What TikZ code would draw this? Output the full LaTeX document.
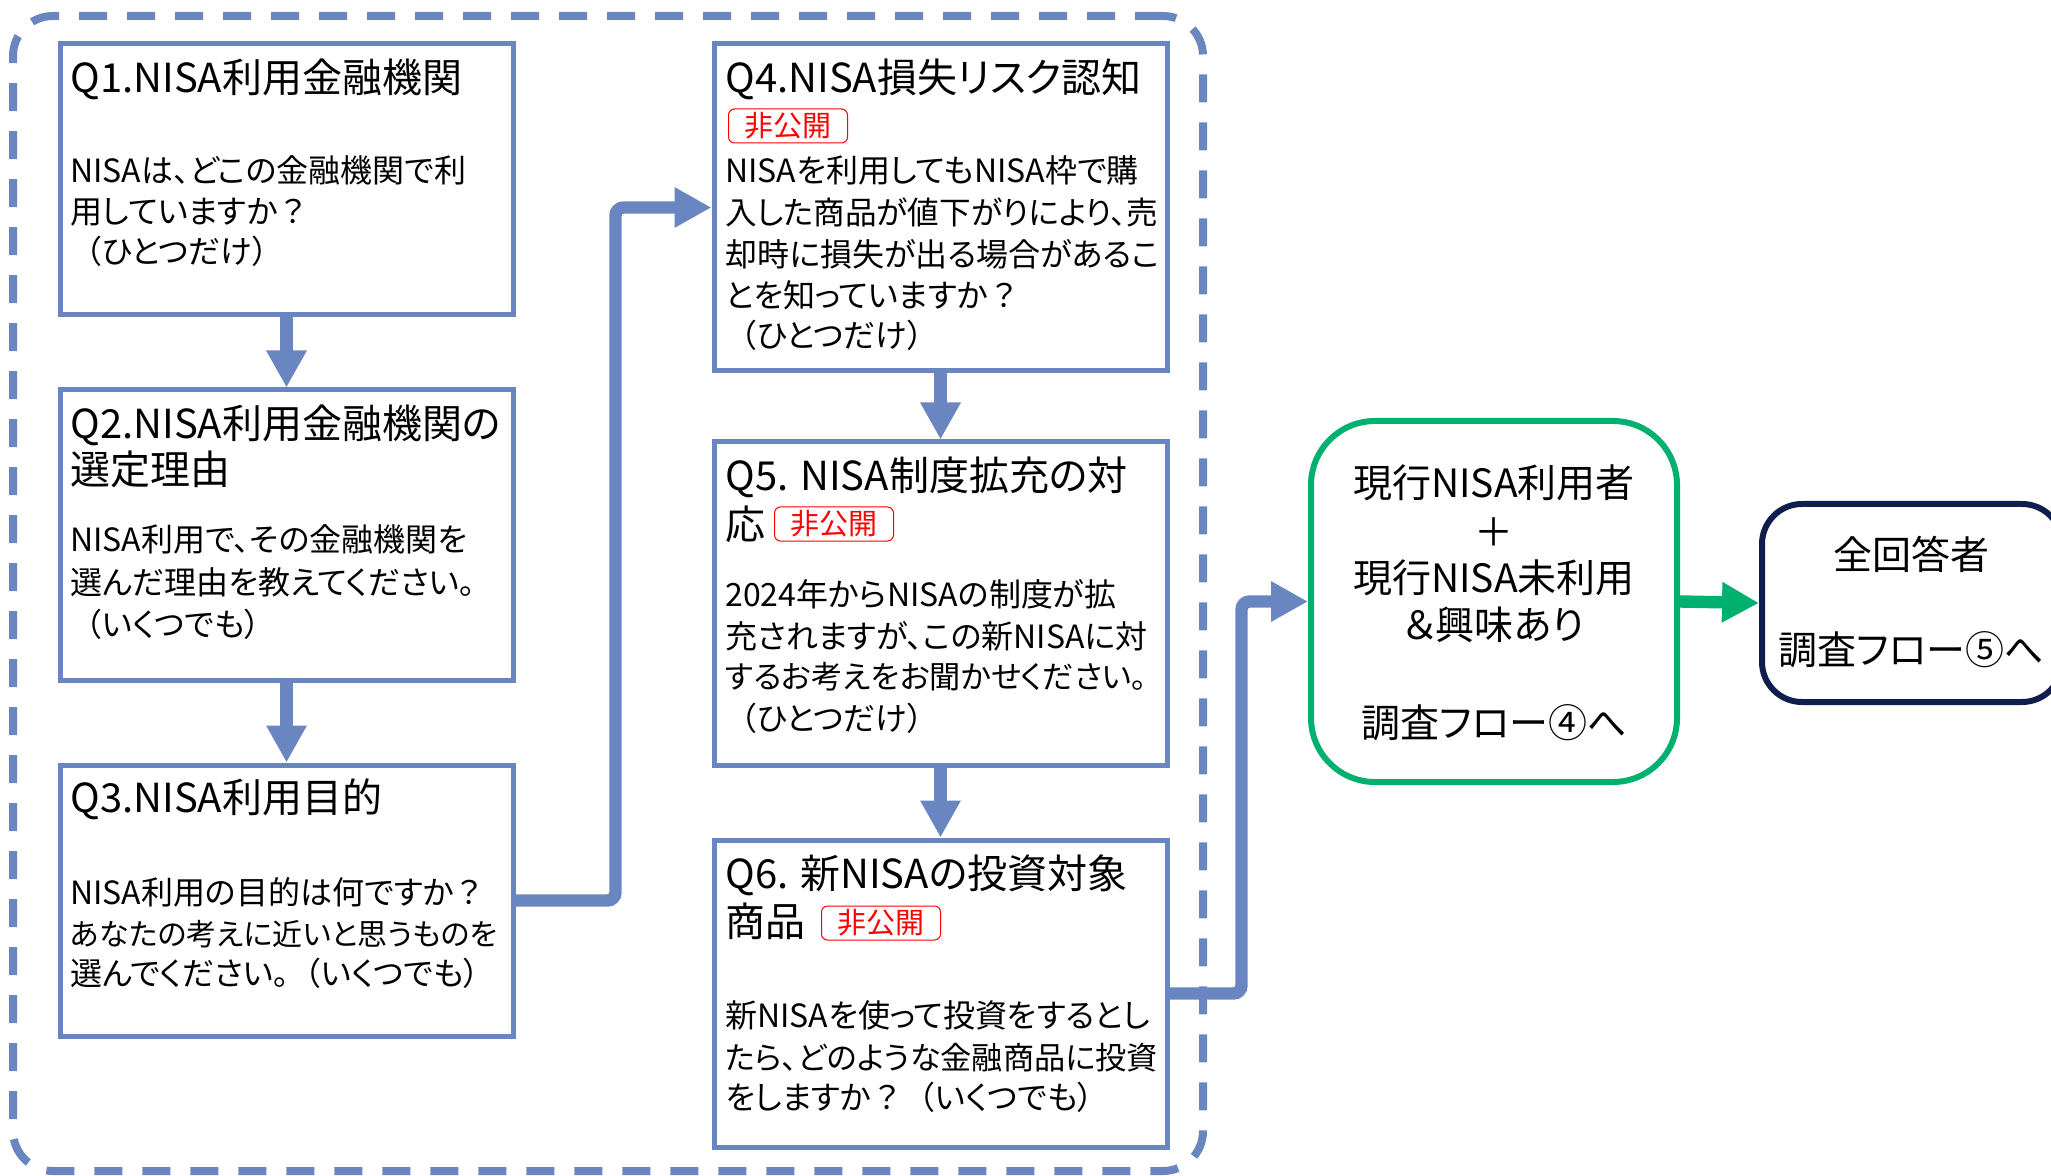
\documentclass[tikz,border=0pt]{standalone}
\usepackage{fontspec}
\setmainfont{Noto Sans CJK JP}[RawFeature=+palt]
\newfontfamily\fwfont{Noto Sans CJK JP}
\newcommand\jlp{{\fwfont （}}
\newcommand\jrp{{\fwfont ）}}
\newcommand\jqm{{\fwfont ？}}
\usetikzlibrary{arrows.meta,fit}
\definecolor{qblue}{RGB}{106,134,193}
\definecolor{qgreen}{RGB}{0,176,110}
\definecolor{qnavy}{RGB}{16,30,78}
\definecolor{qred}{RGB}{255,0,0}
\begin{document}
\begin{tikzpicture}[x=0.5pt,y=-0.5pt,
  grp/.style={draw=qblue, line width=4pt, dash pattern=on 14pt off 10pt, rounded corners=20pt, inner sep=0pt},
  qbox/.style={draw=qblue, line width=2.5pt, fill=white, inner sep=0pt},
  gbox/.style={draw=qgreen, line width=3pt, fill=white, rounded corners=32pt, inner sep=0pt},
  nbox/.style={draw=qnavy, line width=3pt, fill=white, rounded corners=20pt, inner sep=0pt},
  ttl/.style={anchor=base west, font=\fontsize{20}{24}\selectfont, inner sep=0pt},
  bdy/.style={anchor=base west, font=\fontsize{16}{20}\selectfont, inner sep=0pt},
  ctr/.style={anchor=base, font=\fontsize{19.5}{23}\selectfont, inner sep=0pt},
  badge/.style={draw=qred, line width=0.5pt, rounded corners=3pt, text=qred, font=\fontsize{14.5}{17}\selectfont, minimum width=59.5pt, minimum height=17pt, inner sep=0pt},
  flow/.style={draw=qblue, line width=6.2pt, rounded corners=4pt, -{Triangle[length=18.5pt,width=19pt]}},
  gflow/.style={draw=qgreen, line width=6.2pt, -{Triangle[length=18.5pt,width=19pt]}}
]
\useasboundingbox (0,0) rectangle (2051,1176);
\node[grp, fit={(13,16) (1203,1171)}] (grp) {};

% boxes
\node[qbox, fit={(60,44) (513,315)}] (q1) {};
\node[qbox, fit={(60,390) (513,680)}] (q2) {};
\node[qbox, fit={(60,765) (513,1036)}] (q3) {};
\node[qbox, fit={(714,44) (1167,371)}] (q4) {};
\node[qbox, fit={(714,442) (1167,765)}] (q5) {};
\node[qbox, fit={(714,840) (1167,1147)}] (q6) {};
\node[gbox, fit={(1311,421) (1677,782)}] (grn) {};
\node[nbox, fit={(1762,504) (2062,702)}] (nav) {};

% connectors
\draw[flow] (q1.south) -- (q2.north);
\draw[flow] (q2.south) -- (q3.north);
\draw[flow] (q3.east) -- ++(100,0) |- (q4.west);
\draw[flow] (q4.south) -- (q5.north);
\draw[flow] (q5.south) -- (q6.north);
\draw[flow] (q6.east) -- ++(72,0) |- (grn.west);
\draw[gflow] (grn.east) -- (nav.west);

% Q1
\node[ttl] (q1t) at (70,93) {Q1.NISA利用金融機関};
\node[bdy] (q1a) at (70,183) {NISAは、どこの金融機関で利};
\node[bdy] (q1b) at (70,224) {用していますか\jqm};
\node[bdy] (q1c) at (70,264) {\jlp ひとつだけ）};
% Q2
\node[ttl] (q2t) at (70,439) {Q2.NISA利用金融機関の};
\node[ttl] (q2u) at (70,485) {選定理由};
\node[bdy] (q2a) at (70,552) {NISA利用で、その金融機関を};
\node[bdy] (q2b) at (70,594) {選んだ理由を教えてください。};
\node[bdy] (q2c) at (70,636) {\jlp いくつでも）};
% Q3
\node[ttl] (q3t) at (70,812) {Q3.NISA利用目的};
\node[bdy] (q3a) at (70,904) {NISA利用の目的は何ですか\jqm};
\node[bdy, font=\fontsize{15}{20}\selectfont] (q3b) at (70,945) {あなたの考えに近いと思うものを};
\node[bdy] (q3c) at (70,985) {選んでください。\jlp いくつでも）};
% Q4
\node[ttl] (q4t) at (725,93) {Q4.NISA損失リスク認知};
\node[badge] (q4x) at (788,126) {非公開};
\node[bdy] (q4a) at (725,183) {NISAを利用してもNISA枠で購};
\node[bdy, font=\fontsize{15.8}{20}\selectfont] (q4b) at (725,225) {入した商品が値下がりにより、売};
\node[bdy] (q4c) at (725,267) {却時に損失が出る場合があるこ};
\node[bdy] (q4d) at (725,308) {とを知っていますか\jqm};
\node[bdy] (q4e) at (725,348) {\jlp ひとつだけ）};
% Q5
\node[ttl] (q5t) at (725,491) {Q5. NISA制度拡充の対};
\node[ttl] (q5u) at (725,539) {応};
\node[badge] (q5x) at (834,524) {非公開};
\node[bdy] (q5a) at (725,606) {2024年からNISAの制度が拡};
\node[bdy] (q5b) at (725,648) {充されますが、この新NISAに対};
\node[bdy, font=\fontsize{15.6}{20}\selectfont] (q5c) at (725,688) {するお考えをお聞かせください。};
\node[bdy] (q5d) at (725,730) {\jlp ひとつだけ）};
% Q6
\node[ttl] (q6t) at (725,888) {Q6. 新NISAの投資対象};
\node[ttl] (q6u) at (725,936) {商品};
\node[badge] (q6x) at (881,923) {非公開};
\node[bdy] (q6a) at (725,1027) {新NISAを使って投資をするとし};
\node[bdy, font=\fontsize{15.6}{20}\selectfont] (q6b) at (725,1069) {たら、どのような金融商品に投資};
\node[bdy] (q6c) at (725,1109) {をしますか\jqm\jlp いくつでも）};
% green
\node[ctr] (g1) at (1494,498) {現行NISA利用者};
\node[ctr] (g2) at (1494,546) {＋};
\node[ctr] (g3) at (1494,592) {現行NISA未利用};
\node[ctr] (g4) at (1494,639) {＆興味あり};
\node[ctr] (g5) at (1494,737) {調査フロー④へ};
% navy
\node[ctr] (n1) at (1911,569) {全回答者};
\node[ctr] (n2) at (1911,664) {調査フロー⑤へ};
\end{tikzpicture}
\end{document}
